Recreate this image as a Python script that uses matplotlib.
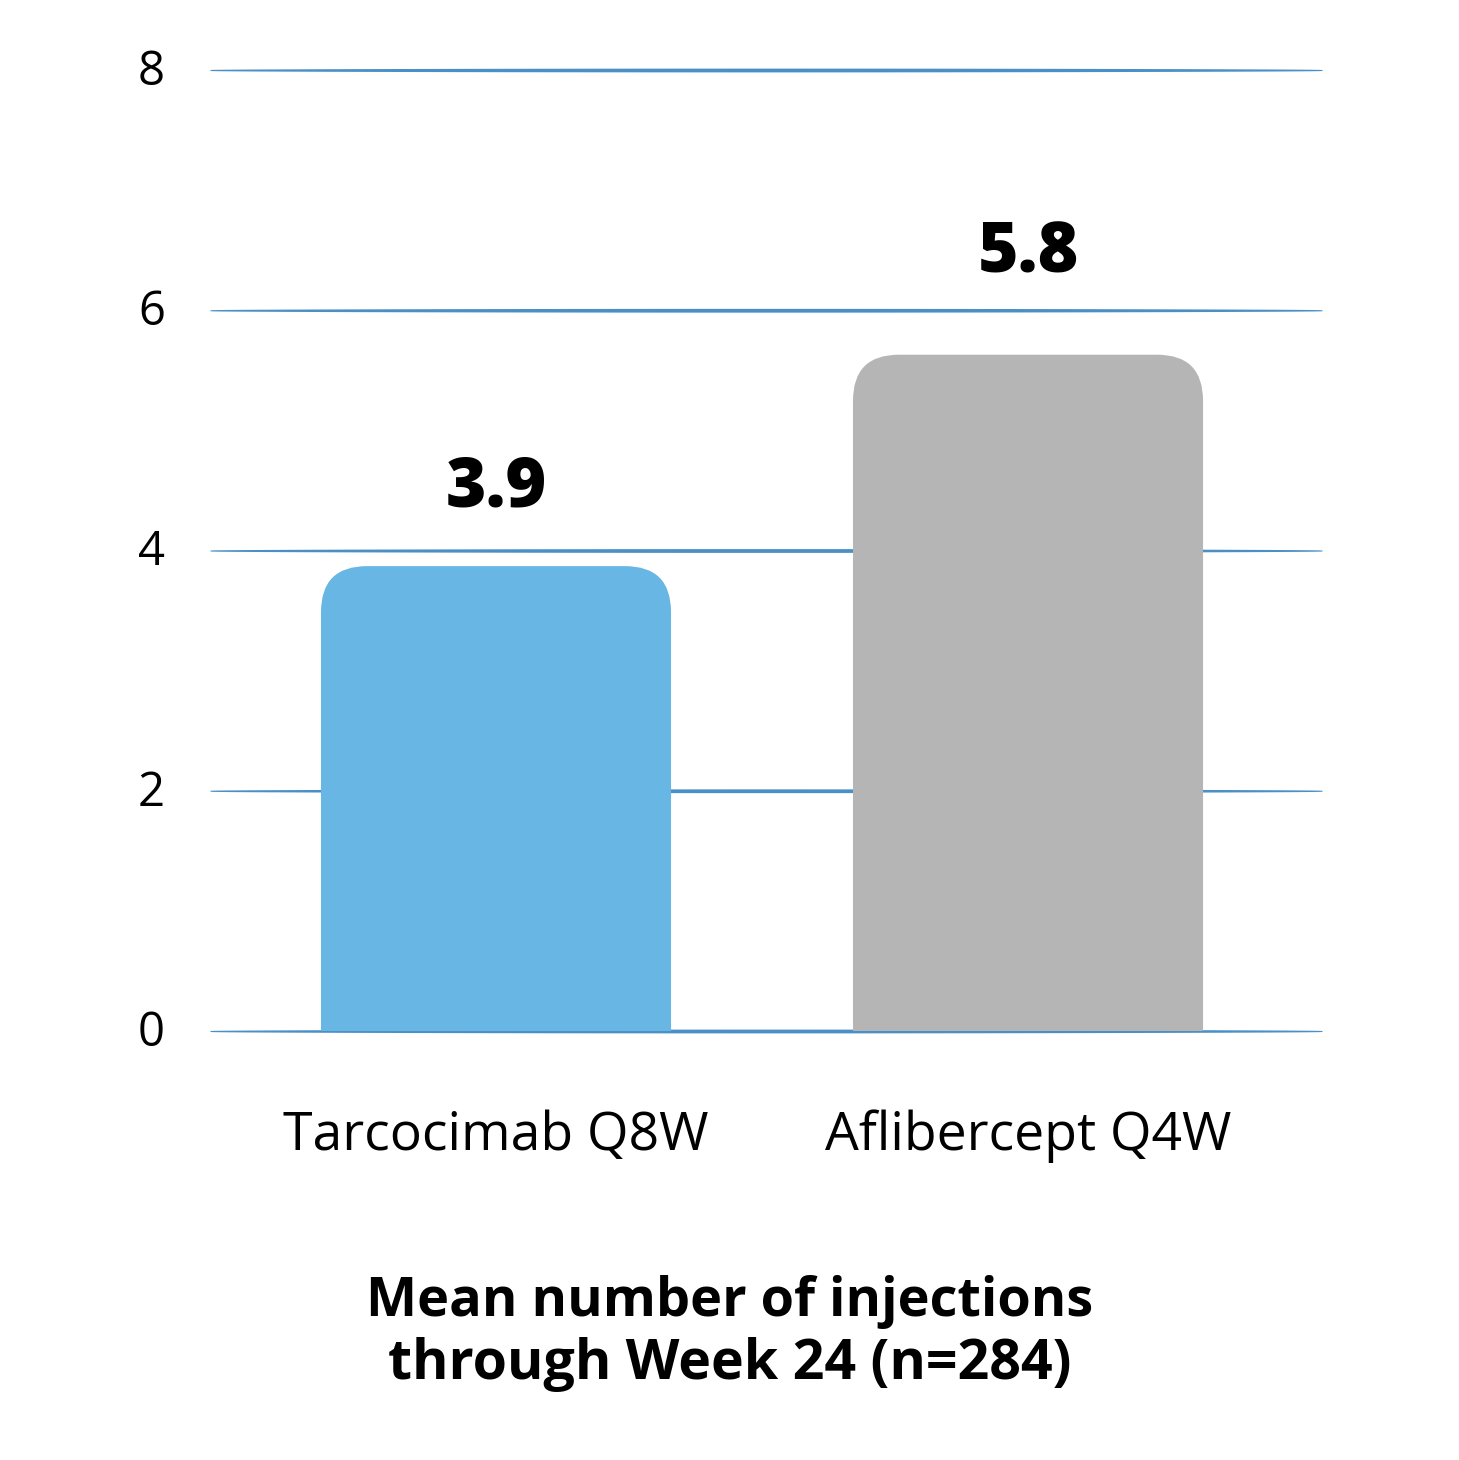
import matplotlib
matplotlib.use("Agg")
import matplotlib.pyplot as plt
import numpy as np
from matplotlib.patches import FancyBboxPatch

# data
categories = ["Tarcocimab Q8W", "Aflibercept Q4W"]
bar_heights = [3.87, 5.63]
value_labels = ["3.9", "5.8"]
y_ticks = [0, 2, 4, 6, 8]
title_lines = ["Mean number of injections", "through Week 24 (n=284)"]

bar_colors = ["#67b6e3", "#b4b5b4"]
grid_color = "#4a90c6"
FONT = "Open Sans"

W, H = 1459, 1460
fig = plt.figure(figsize=(W / 100, H / 100), dpi=100)

# axes placed in pixel terms
left, right, bottom, top = 210, 1322, 1031, 70
ax = fig.add_axes([left / W, (H - bottom) / H, (right - left) / W, (bottom - top) / H])
ax.set_xlim(-0.5376, 1.5526)
ax.set_ylim(0, 8)
ax.axis("off")

px_x = (right - left) / (ax.get_xlim()[1] - ax.get_xlim()[0])
px_y = (bottom - top) / 8

# tapered gridlines (thick in the middle, thin at the ends), behind the bars
xs = np.linspace(-0.5376, 1.5526, 400)
t = (xs - xs[0]) / (xs[-1] - xs[0])
half_w = (0.5 + 1.4 * np.sin(np.pi * t) ** 0.5) / px_y
for yv in y_ticks:
    ax.fill_between(xs, yv - half_w, yv + half_w, color=grid_color,
                    linewidth=0, zorder=1, clip_on=False)
    ax.text(-0.5376 - 0.11, yv - 2 / px_y, str(yv), ha="center", va="center",
            fontsize=34, family=FONT, color="black")

# bars, then swap for rounded-top versions
x = np.arange(len(categories))
bars = ax.bar(x, bar_heights, width=0.658, color=bar_colors, zorder=2)
r = 46 / px_x
label_offset = [78, 100]  # pixels above bar top
for i, b in enumerate(bars):
    b.set_visible(False)
    patch = FancyBboxPatch((b.get_x(), -1), b.get_width(), b.get_height() + 1,
                           boxstyle=f"round,pad=0,rounding_size={r}",
                           mutation_aspect=px_x / px_y,
                           facecolor=b.get_facecolor(), edgecolor="none", zorder=2)
    ax.add_patch(patch)
    ax.text(b.get_x() + b.get_width() / 2, b.get_height() + label_offset[i] / px_y,
            value_labels[i], ha="center", va="center", fontsize=50,
            fontweight="heavy", family=FONT, color="black")
    ax.text(b.get_x() + b.get_width() / 2, -(1136 - bottom) / px_y, categories[i],
            ha="center", va="center", fontsize=38.5, family=FONT, color="black",
            clip_on=False)

fig.text(730 / W, 1 - 1302 / H, title_lines[0], ha="center", va="center",
         fontsize=39, fontweight="bold", family=FONT)
fig.text(730 / W, 1 - 1364 / H, title_lines[1], ha="center", va="center",
         fontsize=40, fontweight="bold", family=FONT)

fig.savefig("out.png", dpi=100, facecolor="white")
